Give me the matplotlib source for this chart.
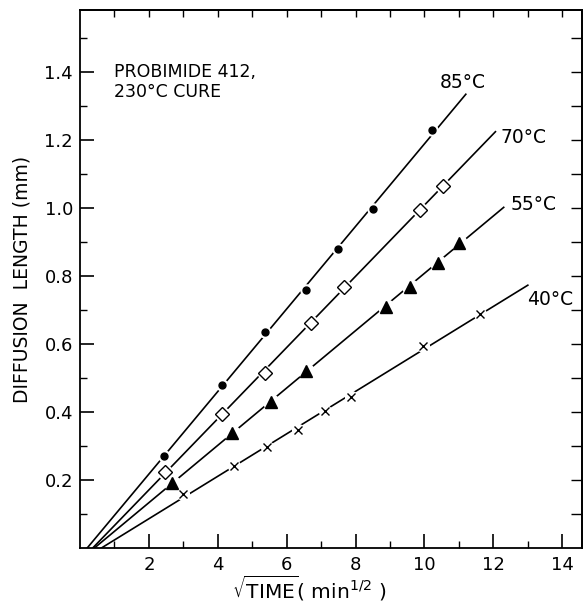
import numpy as np
import matplotlib
matplotlib.use('Agg')
import matplotlib.pyplot as plt

# sqrt(time) readings and diffusion lengths, one set per temperature
x_85 = [2.43, 4.12, 5.37, 6.55, 7.50, 8.50, 10.23]
y_85 = [0.270, 0.480, 0.635, 0.759, 0.880, 0.997, 1.229]

x_70 = [2.47, 4.12, 5.37, 6.71, 7.66, 9.86, 10.53]
y_70 = [0.224, 0.394, 0.516, 0.663, 0.767, 0.994, 1.065]

x_55 = [2.67, 4.40, 5.54, 6.55, 8.87, 9.57, 10.38, 11.00]
y_55 = [0.190, 0.337, 0.430, 0.521, 0.710, 0.769, 0.837, 0.898]

x_40 = [2.98, 4.47, 5.44, 6.34, 7.10, 7.88, 9.97, 11.60]
y_40 = [0.159, 0.241, 0.297, 0.347, 0.403, 0.445, 0.594, 0.688]

# where each fitted line stops on the right
fit_end = {'85': 11.2, '70': 12.06, '55': 12.3, '40': 13.0}

plt.rcParams['font.family'] = 'DejaVu Sans'

fig = plt.figure(figsize=(5.84, 6.05), dpi=100)
ax = fig.add_axes([0.137, 0.094, 0.860, 0.8895])

series = [
    ('85', x_85, y_85, dict(marker='o', ms=5, mfc='black', mec='black')),
    ('70', x_70, y_70, dict(marker='D', ms=7, mfc='white', mec='black', mew=1.0)),
    ('55', x_55, y_55, dict(marker='^', ms=8, mfc='black', mec='black')),
    ('40', x_40, y_40, dict(marker='x', ms=5.5, mfc='black', mec='black', mew=1.0)),
]

for name, xs, ys, style in series:
    m, b = np.polyfit(xs, ys, 1)
    x0 = -b / m
    xl = np.array([x0, fit_end[name]])
    ax.plot(xl, m * xl + b, color='black', lw=1.2, zorder=2)
    # white patch under each marker so the line breaks around it
    ax.plot(xs, ys, ls='none', marker='o', ms=style['ms'] + 3, mfc='white',
            mec='white', zorder=3)
    ax.plot(xs, ys, ls='none', zorder=4, **style)

ax.set_xlim(0, 14.58)
ax.set_ylim(0, 1.582)

ax.set_xticks([2, 4, 6, 8, 10, 12, 14])
ax.set_xticks(np.arange(1, 15, 2), minor=True)
ax.set_yticks([0.2, 0.4, 0.6, 0.8, 1.0, 1.2, 1.4])
ax.set_yticklabels(['0.2', '0.4', '0.6', '0.8', '1.0', '1.2', '1.4'])
ax.set_yticks(np.arange(0.1, 1.6, 0.2), minor=True)
ax.tick_params(which='major', direction='in', length=10, width=1.2,
               labelsize=13, top=False, right=False)
ax.tick_params(which='minor', direction='in', length=5, width=1.0,
               top=False, right=False)
ax.tick_params(axis='x', pad=6)
ax.tick_params(axis='y', pad=5)

top = ax.secondary_xaxis('top')
top.set_xticks(np.arange(1, 15, 1))
top.tick_params(direction='in', length=5, width=1.0, labeltop=False)
right = ax.secondary_yaxis('right')
right.set_yticks(np.arange(0.1, 1.55, 0.1))
right.tick_params(direction='in', length=8, width=1.0, labelright=False)

for sp in list(ax.spines.values()) + [top.spines['top'], right.spines['right']]:
    sp.set_linewidth(1.3)

ax.set_ylabel('DIFFUSION  LENGTH (mm)', fontsize=13.5, labelpad=9)
fig.text(0.398, 0.004, r'$\sqrt{\mathrm{TIME}}$( min$^{1/2}$ )', fontsize=14.5,
         ha='left', va='bottom')

ax.text(1.0, 1.37, 'PROBIMIDE 412,\n230°C CURE', fontsize=12.5,
        ha='left', va='center', linespacing=1.1)
ax.text(10.45, 1.37, '85°C', fontsize=13.5, ha='left', va='center')
ax.text(12.2, 1.206, '70°C', fontsize=13.5, ha='left', va='center')
ax.text(12.5, 1.009, '55°C', fontsize=13.5, ha='left', va='center')
ax.text(12.99, 0.730, '40°C', fontsize=13.5, ha='left', va='center')

fig.savefig('out.png', dpi=100)
